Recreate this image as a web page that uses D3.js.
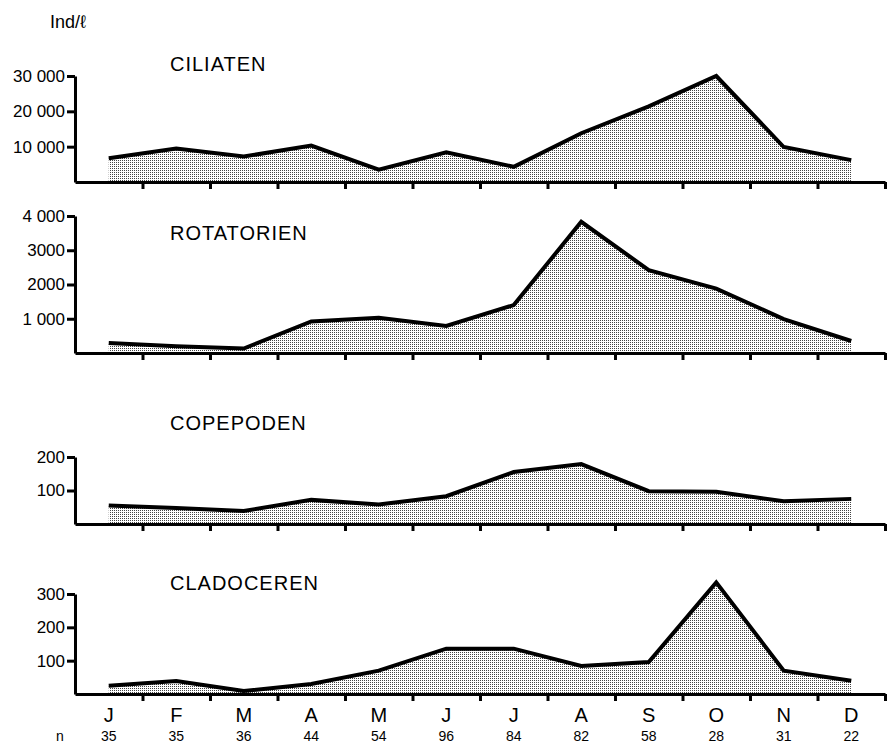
<!DOCTYPE html>
<html>
<head>
<meta charset="utf-8">
<script src="https://cdn.jsdelivr.net/npm/d3@7"></script>
<style>
  body { margin: 0; background: #fff; }
  svg { display: block; font-family: "Liberation Sans", Arial, sans-serif; }
</style>
</head>
<body>
<svg id="chart"></svg>
<script>
// data
const months = ["J", "F", "M", "A", "M", "J", "J", "A", "S", "O", "N", "D"];
const nValues = [35, 35, 36, 44, 54, 96, 84, 82, 58, 28, 31, 22];

const ciliaten = [6700, 9500, 7200, 10300, 3500, 8400, 4300, 13800, 21400, 30000, 9900, 6200];
const rotatorien = [290, 200, 130, 920, 1030, 790, 1400, 3830, 2420, 1880, 990, 350];
const copepoden = [55, 48, 39, 72, 58, 83, 155, 179, 98, 96, 68, 75];
const cladoceren = [25, 39, 9, 30, 70, 136, 136, 84, 96, 335, 70, 40];

const ciliatenTicks = [10000, 20000, 30000];
const ciliatenLabels = ["10 000", "20 000", "30 000"];
const rotatorienTicks = [1000, 2000, 3000, 4000];
const rotatorienLabels = ["1 000", "2000", "3000", "4 000"];
const copepodenTicks = [100, 200];
const copepodenLabels = ["100", "200"];
const cladocerenTicks = [100, 200, 300];
const cladocerenLabels = ["100", "200", "300"];

const width = 888, height = 743;
const xLeft = 75, xRight = 885;

const panels = [
  { name: "CILIATEN", values: ciliaten, ticks: ciliatenTicks, labels: ciliatenLabels, base: 182, top: 76, titleY: 71 },
  { name: "ROTATORIEN", values: rotatorien, ticks: rotatorienTicks, labels: rotatorienLabels, base: 353, top: 216, titleY: 240 },
  { name: "COPEPODEN", values: copepoden, ticks: copepodenTicks, labels: copepodenLabels, base: 524, top: 457, titleY: 430 },
  { name: "CLADOCEREN", values: cladoceren, ticks: cladocerenTicks, labels: cladocerenLabels, base: 694, top: 594, titleY: 590 }
];

const svg = d3.select("#chart")
  .attr("width", width)
  .attr("height", height);

// stippled fill
const pat = svg.append("defs").append("pattern")
  .attr("id", "stipple")
  .attr("width", 2)
  .attr("height", 2)
  .attr("patternUnits", "userSpaceOnUse");
pat.append("rect").attr("width", 2).attr("height", 2).attr("fill", "#fff");
pat.append("rect").attr("x", 0).attr("y", 0).attr("width", 1).attr("height", 1).attr("fill", "#444");

// month index scale: month i sits in the middle of [i, i+1]
const x = d3.scaleLinear().domain([0, 12]).range([xLeft, xRight]);

svg.append("text")
  .attr("x", 50)
  .attr("y", 28)
  .style("font-size", "18px")
  .text("Ind/ℓ");

panels.forEach((p, k) => {
  const y = d3.scaleLinear()
    .domain([0, p.ticks[p.ticks.length - 1]])
    .range([p.base, p.top]);

  const g = svg.append("g").attr("class", "panel");

  g.append("path")
    .datum(p.values)
    .attr("fill", "url(#stipple)")
    .attr("d", d3.area()
      .x((d, i) => x(i + 0.5))
      .y0(p.base)
      .y1(d => y(d)));

  g.append("path")
    .datum(p.values)
    .attr("fill", "none")
    .attr("stroke", "#000")
    .attr("stroke-width", 4)
    .attr("stroke-linejoin", "miter")
    .attr("d", d3.line()
      .x((d, i) => x(i + 0.5))
      .y(d => y(d)));

  const xAxis = g.append("g")
    .attr("transform", `translate(0,${p.base})`)
    .call(d3.axisBottom(x).tickValues(d3.range(1, 13)).tickSize(7).tickSizeOuter(0).tickFormat(""));
  xAxis.select(".domain").attr("stroke-width", 3);
  xAxis.selectAll(".tick line").attr("stroke-width", 3);

  const yAxis = g.append("g")
    .attr("transform", `translate(${xLeft},0)`)
    .call(d3.axisLeft(y).tickValues(p.ticks).tickSize(8).tickPadding(2).tickSizeOuter(0)
      .tickFormat((d, i) => p.labels[i]));
  yAxis.select(".domain").attr("stroke-width", 3);
  yAxis.selectAll(".tick line").attr("stroke-width", 3);
  yAxis.selectAll(".tick text")
    .style("font-size", "17px")
    .attr("fill", "#000")
    .attr("font-family", null);

  g.append("text")
    .attr("x", 170)
    .attr("y", p.titleY)
    .style("font-size", "20px")
    .style("letter-spacing", "1px")
    .text(p.name);
});

// month letters and sample counts under the last panel
svg.append("g").selectAll("text")
  .data(months)
  .join("text")
  .attr("x", (d, i) => x(i + 0.5))
  .attr("y", 722)
  .attr("text-anchor", "middle")
  .style("font-size", "20px")
  .text(d => d);

svg.append("g").selectAll("text")
  .data(nValues)
  .join("text")
  .attr("x", (d, i) => x(i + 0.5))
  .attr("y", 741)
  .attr("text-anchor", "middle")
  .style("font-size", "14px")
  .text(d => d);

svg.append("text")
  .attr("x", 60)
  .attr("y", 741)
  .attr("text-anchor", "middle")
  .style("font-size", "14px")
  .text("n");
</script>
</body>
</html>
